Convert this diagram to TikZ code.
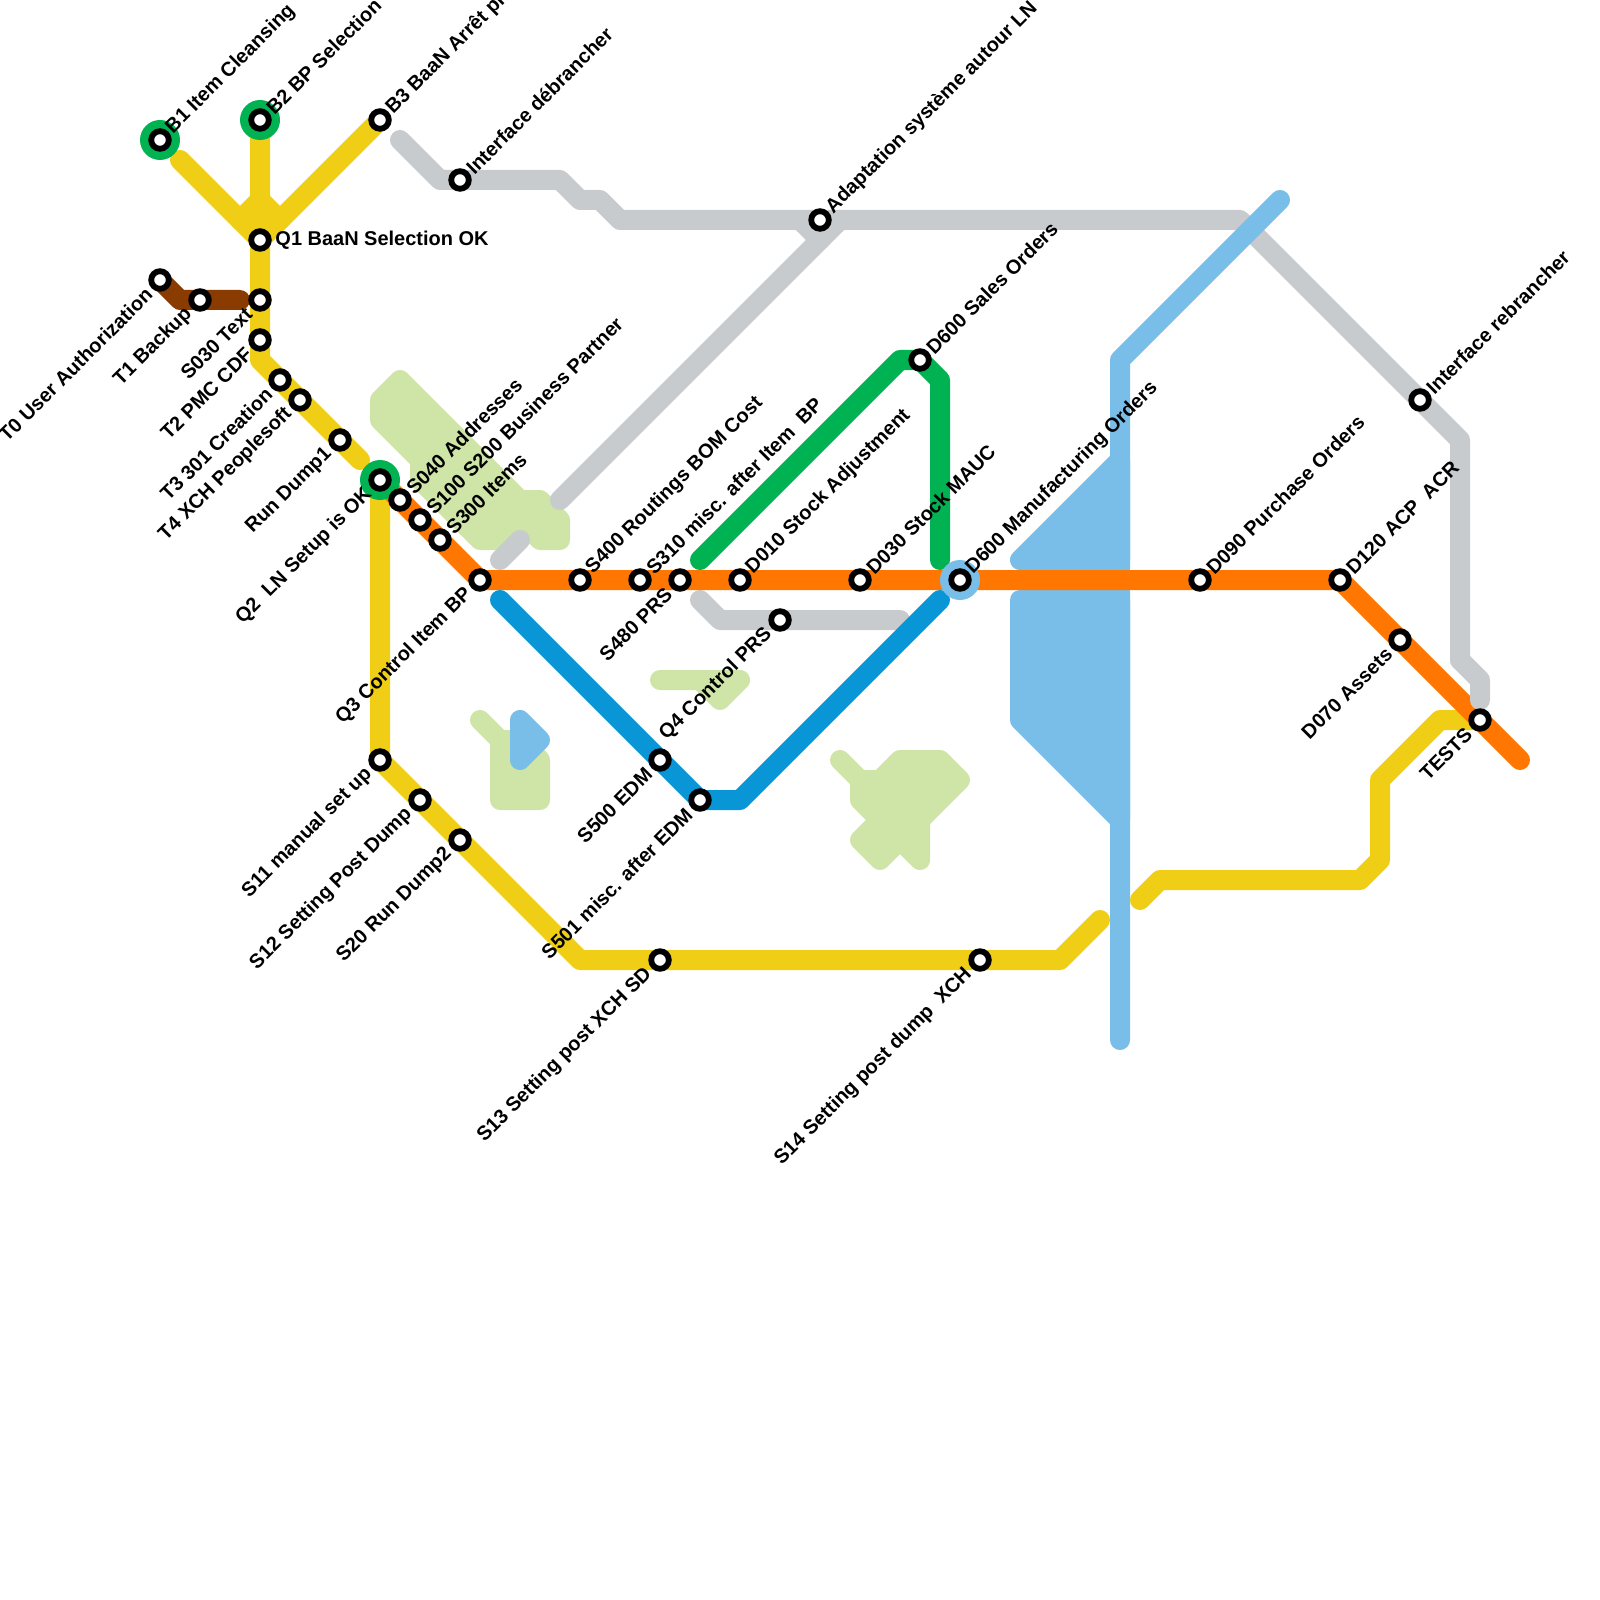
\documentclass[tikz,border=0pt]{standalone}
\usepackage{fontspec}
\setmainfont{Liberation Sans}
\definecolor{myellow}{HTML}{F0CE15}
\definecolor{morange}{HTML}{FF7700}
\definecolor{mgreen}{HTML}{00B251}
\definecolor{mgrey}{HTML}{C8CBCE}
\definecolor{mleaf}{HTML}{CFE4A7}
\definecolor{msky}{HTML}{79BDE9}
\definecolor{mblue}{HTML}{0896D7}
\definecolor{mbrown}{HTML}{8A3B00}
\pgfdeclarelayer{lines}
\pgfdeclarelayer{rings}
\pgfsetlayers{lines,rings,main}
\tikzset{
	metro/.style={line width=5mm, line cap=round, line join=round},
	stop/.style={circle, draw=black, fill=white, line width=1.45mm, minimum size=4.4mm, inner sep=0pt},
	ringg/.style={circle, fill=mgreen, minimum size=10mm, inner sep=0pt},
	rings/.style={circle, fill=msky, minimum size=10mm, inner sep=0pt},
	lblne/.style={font=\fontsize{14.2pt}{16pt}\bfseries, rotate=45, anchor=west, inner xsep=3.3mm, inner ysep=0pt},
	lblsw/.style={font=\fontsize{14.2pt}{16pt}\bfseries, rotate=45, anchor=east, inner xsep=3.9mm, inner ysep=0pt},
	lble/.style={font=\fontsize{14.2pt}{16pt}\bfseries, anchor=west, inner xsep=3.8mm, inner ysep=0pt}
}
\begin{document}
\begin{tikzpicture}[x=0.25mm, y=-0.25mm]
	\useasboundingbox (0,0) rectangle (1600,1600);

	% Stations
	\node[stop] (b1) at (160,140) {};
	\node[stop] (b2) at (260,120) {};
	\node[stop] (b3) at (380,120) {};
	\node[stop] (q1) at (260,240) {};
	\node[stop] (t0) at (160,280) {};
	\node[stop] (t1) at (200,300) {};
	\node[stop] (s030) at (260,300) {};
	\node[stop] (t2) at (260,340) {};
	\node[stop] (t3) at (280,380) {};
	\node[stop] (t4) at (300,400) {};
	\node[stop] (rd1) at (340,440) {};
	\node[stop] (q2) at (380,480) {};
	\node[stop] (s040) at (400,500) {};
	\node[stop] (s100) at (420,520) {};
	\node[stop] (s300) at (440,540) {};
	\node[stop] (q3) at (480,580) {};
	\node[stop] (s400) at (580,580) {};
	\node[stop] (s310) at (640,580) {};
	\node[stop] (s480) at (680,580) {};
	\node[stop] (d010) at (740,580) {};
	\node[stop] (d030) at (860,580) {};
	\node[stop] (d600m) at (960,580) {};
	\node[stop] (d090) at (1200,580) {};
	\node[stop] (d120) at (1340,580) {};
	\node[stop] (d070) at (1400,640) {};
	\node[stop] (tests) at (1480,720) {};
	\node[stop] (irb) at (1420,400) {};
	\node[stop] (idb) at (460,180) {};
	\node[stop] (adap) at (820,220) {};
	\node[stop] (d600s) at (920,360) {};
	\node[stop] (q4) at (780,620) {};
	\node[stop] (s500) at (660,760) {};
	\node[stop] (s501) at (700,800) {};
	\node[stop] (s11) at (380,760) {};
	\node[stop] (s12) at (420,800) {};
	\node[stop] (s20) at (460,840) {};
	\node[stop] (s13) at (660,960) {};
	\node[stop] (s14) at (980,960) {};

	% Free ends
	\coordinate (yb1) at (180,160);
	\coordinate (yrd) at (360,460);
	\coordinate (ysa) at (1100,920);
	\coordinate (ysb) at (1140,900);
	\coordinate (brn) at (240,300);
	\coordinate (ora) at (1520,760);
	\coordinate (gra) at (400,140);
	\coordinate (grb) at (560,500);
	\coordinate (grc) at (500,560);
	\coordinate (grd) at (520,540);
	\coordinate (gre) at (700,600);
	\coordinate (grf) at (900,620);
	\coordinate (grg) at (1480,700);
	\coordinate (dga) at (700,560);
	\coordinate (dgb) at (940,560);
	\coordinate (bla) at (500,600);
	\coordinate (blb) at (940,600);
	\coordinate (ska) at (1280,200);
	\coordinate (skb) at (1120,1040);

	\begin{pgfonlayer}{rings}
		\node[ringg] (b1r) at (b1) {};
		\node[ringg] (b2r) at (b2) {};
		\node[ringg] (q2r) at (q2) {};
		\node[rings] (d600r) at (d600m) {};
	\end{pgfonlayer}

	\begin{pgfonlayer}{lines}
		% Leaf areas
		\filldraw[metro, draw=mleaf, fill=mleaf] (400,380) -- (520,500) -- (540,500) -- (560,520) -- (560,540) -- (540,540) -- (520,520) -- (500,540) -- (480,540) -- (420,480) -- (420,460) -- (380,420) -- (380,400) -- cycle;
		\filldraw[metro, draw=mleaf, fill=mleaf] (660,680) -- (740,680) -- (720,700) -- (700,680);
		\filldraw[metro, draw=mleaf, fill=mleaf] (480,720) -- (500,740) -- (500,800) -- (540,800) -- (540,760) -- (520,740) -- (500,740);
		\filldraw[metro, draw=mleaf, fill=mleaf] (840,760) -- (860,780) -- (880,780) -- (900,760) -- (940,760) -- (960,780) -- (920,820) -- (920,860) -- (900,840) -- (880,860) -- (860,840) -- (880,820) -- (860,800) -- (860,780);

		% Grey
		\draw[metro, mgrey] (gra) -- (440,180) -- (idb.center) -- (560,180) -- (580,200) -- (600,200) -- (620,220) -- (adap.center) -- (1240,220) -- (1460,440) -- (1460,660);
		\draw[metro, mgrey] (grb) -- (840,220);
		\draw[metro, mgrey] (adap.center) ++(-20,0) -- ++(20,20);
		\draw[metro, mgrey] (gre) -- (720,620) -- (q4.center) -- (grf);

		% Sky
		\draw[metro, msky] (ska) -- (1120,360) -- (skb);
		\filldraw[metro, draw=msky, fill=msky] (1020,560) -- (1120,460) -- (1120,560) -- cycle;
		\filldraw[metro, draw=msky, fill=msky] (1020,600) -- (1120,600) -- (1120,820) -- (1020,720) -- cycle;
		\filldraw[metro, draw=msky, fill=msky] (520,720) -- (540,740) -- (520,760) -- cycle;

		% Yellow
		\draw[metro, myellow] (yb1) -- (q1.center);
		\draw[metro, myellow] (b2.center) -- (q1.center) -- (s030.center) -- (t2.center) -- (260,360) -- (t3.center) -- (t4.center) -- (rd1.center) -- (yrd);
		\draw[metro, myellow] (b3.center) -- (q1.center);
		\draw[metro, myellow] (240,220) -- (260,200) -- (280,220);
		\draw[metro, myellow] (q2.center) -- (s11.center) -- (s12.center) -- (s20.center) -- (580,960) -- (s13.center) -- (s14.center) -- (1060,960) -- (ysa);
		\draw[metro, myellow] (ysb) -- (1160,880) -- (1360,880) -- (1380,860) -- (1380,780) -- (1440,720) -- (tests.center);

		% Brown
		\draw[metro, mbrown] (t0.center) -- (180,300) -- (t1.center) -- (brn);

		% Orange
		\draw[metro, morange] (q2.center) -- (s040.center) -- (s100.center) -- (s300.center) -- (q3.center) -- (s400.center) -- (s310.center) -- (s480.center) -- (d010.center) -- (d030.center) -- (d600m.center) -- (d090.center) -- (d120.center) -- (d070.center) -- (tests.center) -- (ora);

		% Grey, above the orange
		\draw[metro, mgrey] (grc) -- (grd);
		\draw[metro, mgrey] (1460,660) -- (1480,680) -- (grg);

		% Dark green
		\draw[metro, mgreen] (dga) -- (900,360) -- (d600s.center) -- (940,380) -- (dgb);

		% Blue
		\draw[metro, mblue] (bla) -- (s500.center) -- (s501.center) -- (740,800) -- (blb);
	\end{pgfonlayer}

	% Labels
	\node[lblne] (b1l) at (b1) {B1 Item Cleansing};
	\node[lblne] (b2l) at (b2) {B2 BP Selection};
	\node[lblne] (b3l) at (b3) {B3 BaaN Arrêt pr};
	\node[lblne] (idbl) at (idb) {Interface débrancher};
	\node[lblne] (adapl) at (adap) {Adaptation système autour LN};
	\node[lblne] (d600sl) at (d600s) {D600 Sales Orders};
	\node[lblne] (s040l) at (s040) {S040 Addresses};
	\node[lblne] (s100l) at (s100) {S100 S200 Business Partner};
	\node[lblne] (s300l) at (s300) {S300 Items};
	\node[lblne] (s400l) at (s400) {S400 Routings BOM Cost};
	\node[lblne] (s310l) at (s310) {S310 misc. after Item~ BP};
	\node[lblne] (d010l) at (d010) {D010 Stock Adjustment};
	\node[lblne] (d030l) at (d030) {D030 Stock MAUC};
	\node[lblne] (d600ml) at (d600m) {D600 Manufacturing Orders};
	\node[lblne] (d090l) at (d090) {D090 Purchase Orders};
	\node[lblne] (d120l) at (d120) {D120 ACP~ ACR};
	\node[lblne] (irbl) at (irb) {Interface rebrancher};
	\node[lble] (q1l) at (q1) {Q1 BaaN Selection OK};
	\node[lblsw] (t0l) at (t0) {T0 User Authorization};
	\node[lblsw] (t1l) at (t1) {T1 Backup};
	\node[lblsw] (s030l) at (s030) {S030 Text};
	\node[lblsw] (t2l) at (t2) {T2 PMC CDF};
	\node[lblsw] (t3l) at (t3) {T3 301 Creation};
	\node[lblsw] (t4l) at (t4) {T4 XCH Peoplesoft};
	\node[lblsw] (rd1l) at (rd1) {Run Dump1};
	\node[lblsw] (q2l) at (q2) {Q2~ LN Setup is OK};
	\node[lblsw] (q3l) at (q3) {Q3 Control Item BP};
	\node[lblsw] (s480l) at (s480) {S480 PRS};
	\node[lblsw] (q4l) at (q4) {Q4 Control PRS};
	\node[lblsw] (s500l) at (s500) {S500 EDM};
	\node[lblsw] (s501l) at (s501) {S501 misc. after EDM};
	\node[lblsw] (s11l) at (s11) {S11 manual set up};
	\node[lblsw] (s12l) at (s12) {S12 Setting Post Dump};
	\node[lblsw] (s20l) at (s20) {S20 Run Dump2};
	\node[lblsw] (s13l) at (s13) {S13 Setting post XCH SD};
	\node[lblsw] (s14l) at (s14) {S14 Setting post dump~ XCH};
	\node[lblsw] (d070l) at (d070) {D070 Assets};
	\node[lblsw] (testsl) at (tests) {TESTS};
\end{tikzpicture}
\end{document}
